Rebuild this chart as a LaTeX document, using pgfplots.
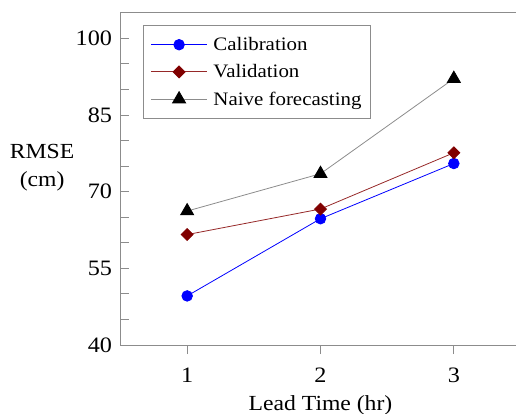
\documentclass[border=0pt]{standalone}
\usepackage{fontspec}
\setmainfont{Liberation Serif}[FakeStretch=1.1]
\usepackage{pgfplots}
\pgfplotsset{compat=1.18}
\definecolor{axgray}{RGB}{140,140,140}
\definecolor{valred}{RGB}{128,0,0}
\definecolor{vline}{RGB}{150,40,40}
\definecolor{nline}{RGB}{140,140,140}
\begin{document}
\begin{tikzpicture}
\begin{axis}[
  scale only axis, width=400bp, height=332.3bp,
  anchor=south west, at={(0,0)},
  xmin=0.5, xmax=3.5, ymin=40, ymax=105,
  xtick={1,2,3}, ytick={40,55,70,85,100},
  minor ytick={45,50,60,65,75,80,90,95},
  xtick pos=bottom, ytick pos=left,
  xtick align=outside, ytick align=inside,
  major tick length=9bp, minor tick length=9bp,
  tick style={axgray, line width=0.8bp},
  axis line style={axgray, line width=1bp},
  /pgf/number format/assume math mode=true,
  tick label style={font=\fontsize{22bp}{26bp}\selectfont},
  label style={font=\fontsize{21.5bp}{28bp}\selectfont},
  yticklabel style={xshift=-5bp},
  xticklabel style={yshift=-10bp},
  xlabel={Lead Time (hr)},
  xlabel style={at={(axis description cs:0.5,-0.1806)}, anchor=center},
  ylabel={RMSE\\(cm)},
  ylabel style={rotate=-90, align=center, at={(axis description cs:-0.196,0.533)}, anchor=center},
  legend style={at={(axis description cs:0.057,0.963)}, anchor=north west, draw=axgray, line width=0.8bp,
    font=\fontsize{19bp}{22bp}\selectfont, inner xsep=7bp, inner ysep=10bp, row sep=8.5bp,
    /tikz/every odd column/.append style={column sep=4bp}},
  legend cell align=left,
  legend image code/.code={\draw[mark repeat=2,mark phase=2] plot coordinates {(0bp,0bp) (28bp,0bp) (56bp,0bp)};},
]
\addplot[blue, line width=0.8bp, mark=*, mark size=5.3bp, mark options={fill=blue, draw=blue}] coordinates {(1,49.6) (2,64.7) (3,75.5)};
\addlegendentry{Calibration}
\addplot[vline, line width=0.8bp, mark=square*, mark size=4.2bp, mark options={fill=valred, draw=valred, rotate=45}] coordinates {(1,61.6) (2,66.6) (3,77.6)};
\addlegendentry{Validation}
\addplot[nline, line width=0.8bp, mark=triangle*, mark size=7.5bp, mark options={fill=black, draw=black}] coordinates {(1,66.2) (2,73.5) (3,92.1)};
\addlegendentry{Naive forecasting}
\end{axis}
\pgfresetboundingbox
\path[use as bounding box] (-120.5bp,-69bp) rectangle (395.5bp,345bp);
\end{tikzpicture}
\end{document}
